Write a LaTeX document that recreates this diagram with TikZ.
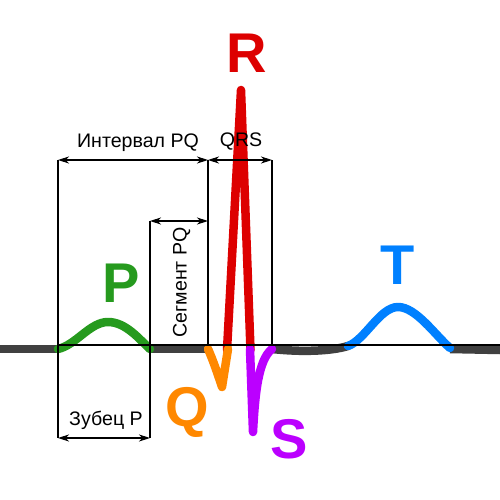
\documentclass[tikz,border=0pt]{standalone}
\usepackage{fontspec}
\setmainfont{Liberation Sans}
\usetikzlibrary{arrows.meta}
\definecolor{wgray}{RGB}{64,64,64}
\definecolor{pgreen}{RGB}{38,154,30}
\definecolor{qorange}{RGB}{255,136,0}
\definecolor{rred}{RGB}{221,0,0}
\definecolor{spurple}{RGB}{187,0,255}
\definecolor{tblue}{RGB}{0,128,255}
\begin{document}
\begin{tikzpicture}[x=1pt,y=-1pt,
  wave/.style={line width=8.5pt,line cap=round,line join=round},
  thinline/.style={line width=1.1pt,black},
  dim/.style={thinline,{Stealth[length=11pt,width=7pt,inset=3.5pt]}-{Stealth[length=11pt,width=7pt,inset=3.5pt]}},
  big/.style={inner sep=0pt,font=\fontsize{56}{56}\bfseries\selectfont},
  lbl/.style={inner sep=0pt,font=\fontsize{19.6}{20}\selectfont}]
\useasboundingbox (0,0) rectangle (500,500);
% waves
\draw[wave,wgray,line cap=butt] (0,349) -- (58,349);
\draw[wave,wgray] (150,349) -- (208,349);
\draw[wave,wgray] (272,349) .. controls (300,352) and (330,351.5) .. (348,346);
\draw[wave,wgray,line cap=butt] (450,349) -- (500,350);
\draw[wave,pgreen] (58,349) .. controls (76,345) and (90,322) .. (108,322) .. controls (126,322) and (140,340) .. (150,349);
\draw[wave,tblue] (348,346) .. controls (365,340) and (380,307) .. (398,307) .. controls (416,307) and (435,335) .. (450,348);
\draw[wave,rred] (227,350) -- (241,90) -- (250.5,350);
\draw[wave,qorange] (208,349) .. controls (213,360) and (218,375) .. (222,387) -- (228,349);
\draw[wave,spurple] (250,349) -- (253,432) .. controls (255,395) and (258,360) .. (272,349);
% coordinates
\coordinate (a1) at (58,160);
\coordinate (a2) at (208,160);
\coordinate (a3) at (272,160);
\coordinate (a2b) at (208,345);
\coordinate (a3b) at (272,345);
\coordinate (b1) at (150,221);
\coordinate (b2) at (208,221);
\coordinate (c1) at (58,438);
\coordinate (c2) at (150,438);
\coordinate (l0) at (58,345);
\coordinate (l1) at (500,345);
% thin lines
\draw[thinline] (l0) -- (l1);
\draw[thinline] (a1) -- (c1);
\draw[thinline] (b1) -- (c2);
\draw[thinline] (a2) -- (a2b);
\draw[thinline] (a3) -- (a3b);
\draw[dim] (a1) -- (a2);
\draw[dim] (a2) -- (a3);
\draw[dim] (b1) -- (b2);
\draw[dim] (c1) -- (c2);
% text
\node[lbl,anchor=base] (tint) at (138,147) {Интервал PQ};
\node[lbl,anchor=base] (tqrs) at (241,146) {QRS};
\node[lbl,anchor=base] (tzub) at (106,425) {Зубец P};
\node[lbl,anchor=base,rotate=90] (tseg) at (186.5,282.5) {Сегмент PQ};
\node[big,pgreen] (lp) at (121,283) {P};
\node[big,qorange] (lq) at (187,412) {Q};
\node[big,rred] (lr) at (247,53) {R};
\node[big,spurple] (ls) at (289,439) {S};
\node[big,tblue] (lt) at (398,265) {T};
\end{tikzpicture}
\end{document}
